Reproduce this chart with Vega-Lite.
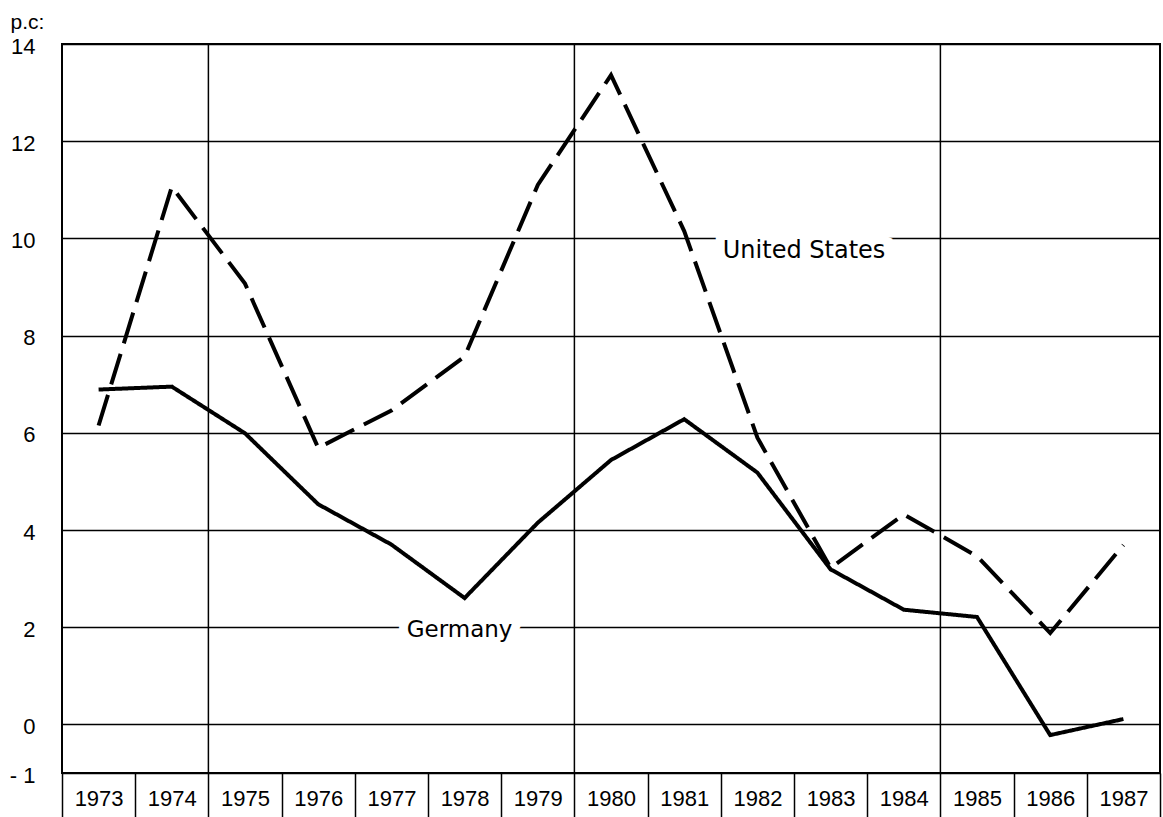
{
  "$schema": "https://vega.github.io/schema/vega-lite/v6.json",
  "width": 1098,
  "height": 729,
  "autosize": "none",
  "padding": {"left": 62, "top": 44, "right": 3, "bottom": 44},
  "background": "white",
  "config": {
    "view": {"stroke": "black", "strokeWidth": 2},
    "font": "Liberation Sans",
    "axisX": {"title": null, "domain": false, "grid": false,
              "ticks": true, "tickBand": "extent", "tickSize": 45, "tickColor": "black", "tickWidth": 1.5,
              "labelFontSize": 22, "labelAngle": 0, "labelPadding": -20, "labelBaseline": "middle",
              "labelColor": "black", "labelFont": "Liberation Sans"},
    "axisY": {"titleAngle": 0, "titleX": -52, "titleY": -22, "titleAlign": "left",
              "titleBaseline": "middle", "titleFontSize": 21, "titleFontWeight": "normal",
              "titleColor": "black", "titleFont": "Liberation Sans",
              "labelFontSize": 22, "labelPadding": 27, "labelOffset": 2, "ticks": false, "domain": false,
              "labelColor": "black", "labelFont": "Liberation Sans",
              "grid": true, "gridColor": "black", "gridWidth": 1.5, "gridOpacity": 1}
  },
  "datasets": {
    "series": [
      {"year": "1973", "series": "Germany", "value": 6.89},
      {"year": "1974", "series": "Germany", "value": 6.95},
      {"year": "1975", "series": "Germany", "value": 5.99},
      {"year": "1976", "series": "Germany", "value": 4.53},
      {"year": "1977", "series": "Germany", "value": 3.7},
      {"year": "1978", "series": "Germany", "value": 2.6},
      {"year": "1979", "series": "Germany", "value": 4.15},
      {"year": "1980", "series": "Germany", "value": 5.44},
      {"year": "1981", "series": "Germany", "value": 6.28},
      {"year": "1982", "series": "Germany", "value": 5.18},
      {"year": "1983", "series": "Germany", "value": 3.19},
      {"year": "1984", "series": "Germany", "value": 2.36},
      {"year": "1985", "series": "Germany", "value": 2.21},
      {"year": "1986", "series": "Germany", "value": -0.22},
      {"year": "1987", "series": "Germany", "value": 0.11},
      {"year": "1973", "series": "United States", "value": 6.15},
      {"year": "1974", "series": "United States", "value": 11.06},
      {"year": "1975", "series": "United States", "value": 9.07},
      {"year": "1976", "series": "United States", "value": 5.69},
      {"year": "1977", "series": "United States", "value": 6.46},
      {"year": "1978", "series": "United States", "value": 7.57},
      {"year": "1979", "series": "United States", "value": 11.1},
      {"year": "1980", "series": "United States", "value": 13.36},
      {"year": "1981", "series": "United States", "value": 10.15},
      {"year": "1982", "series": "United States", "value": 5.9},
      {"year": "1983", "series": "United States", "value": 3.22},
      {"year": "1984", "series": "United States", "value": 4.32},
      {"year": "1985", "series": "United States", "value": 3.46},
      {"year": "1986", "series": "United States", "value": 1.88},
      {"year": "1987", "series": "United States", "value": 3.69}
    ],
    "dividers": [{"year": "1975"}, {"year": "1980"}, {"year": "1985"}],
    "labelUS": [{"year": "1982", "value": 9.74, "label": "United States"}],
    "labelDE": [{"year": "1978", "value": 1.95, "label": "Germany"}]
  },
  "encoding": {
    "x": {"field": "year", "type": "ordinal",
          "scale": {"type": "band", "paddingInner": 0, "paddingOuter": 0,
                    "domain": ["1973","1974","1975","1976","1977","1978","1979","1980","1981","1982","1983","1984","1985","1986","1987"]},
          "axis": {"title": null}},
    "y": {"field": "value", "type": "quantitative",
          "scale": {"domain": [-1, 14], "nice": false, "zero": false},
          "axis": {"title": "p.c:", "values": [-1, 0, 2, 4, 6, 8, 10, 12, 14],
                   "labelExpr": "datum.value < 0 ? '- 1' : datum.label"}}
  },
  "layer": [
    {
      "data": {"name": "dividers"},
      "mark": {"type": "rule", "color": "black", "strokeWidth": 1.5},
      "encoding": {
        "x": {"field": "year", "type": "ordinal", "bandPosition": 0},
        "y": null
      }
    },
    {
      "data": {"name": "series"},
      "mark": {"type": "line", "color": "black", "strokeWidth": 4, "strokeJoin": "miter", "strokeCap": "butt"},
      "encoding": {
        "x": {"field": "year", "type": "ordinal", "bandPosition": 0.5},
        "strokeDash": {"field": "series", "type": "nominal",
                       "scale": {"domain": ["Germany", "United States"], "range": [[1, 0], [32, 11]]},
                       "legend": null},
        "detail": {"field": "series"}
      }
    },
    {
      "data": {"name": "labelUS"},
      "encoding": {
        "x": {"field": "year", "type": "ordinal", "bandPosition": 0},
        "text": {"field": "label"}
      },
      "layer": [
        {"mark": {"type": "text", "font": "DejaVu Sans", "fontSize": 24, "align": "left", "baseline": "middle", "dx": 2, "stroke": "white", "strokeWidth": 18, "fill": "white"}},
        {"mark": {"type": "text", "font": "DejaVu Sans", "fontSize": 24, "align": "left", "baseline": "middle", "dx": 2, "fill": "black"}}
      ]
    },
    {
      "data": {"name": "labelDE"},
      "encoding": {
        "x": {"field": "year", "type": "ordinal", "bandPosition": 0.5},
        "text": {"field": "label"}
      },
      "layer": [
        {"mark": {"type": "text", "font": "DejaVu Sans", "fontSize": 23, "align": "center", "baseline": "middle", "dx": -5, "stroke": "white", "strokeWidth": 18, "fill": "white"}},
        {"mark": {"type": "text", "font": "DejaVu Sans", "fontSize": 23, "align": "center", "baseline": "middle", "dx": -5, "fill": "black"}}
      ]
    }
  ]
}
